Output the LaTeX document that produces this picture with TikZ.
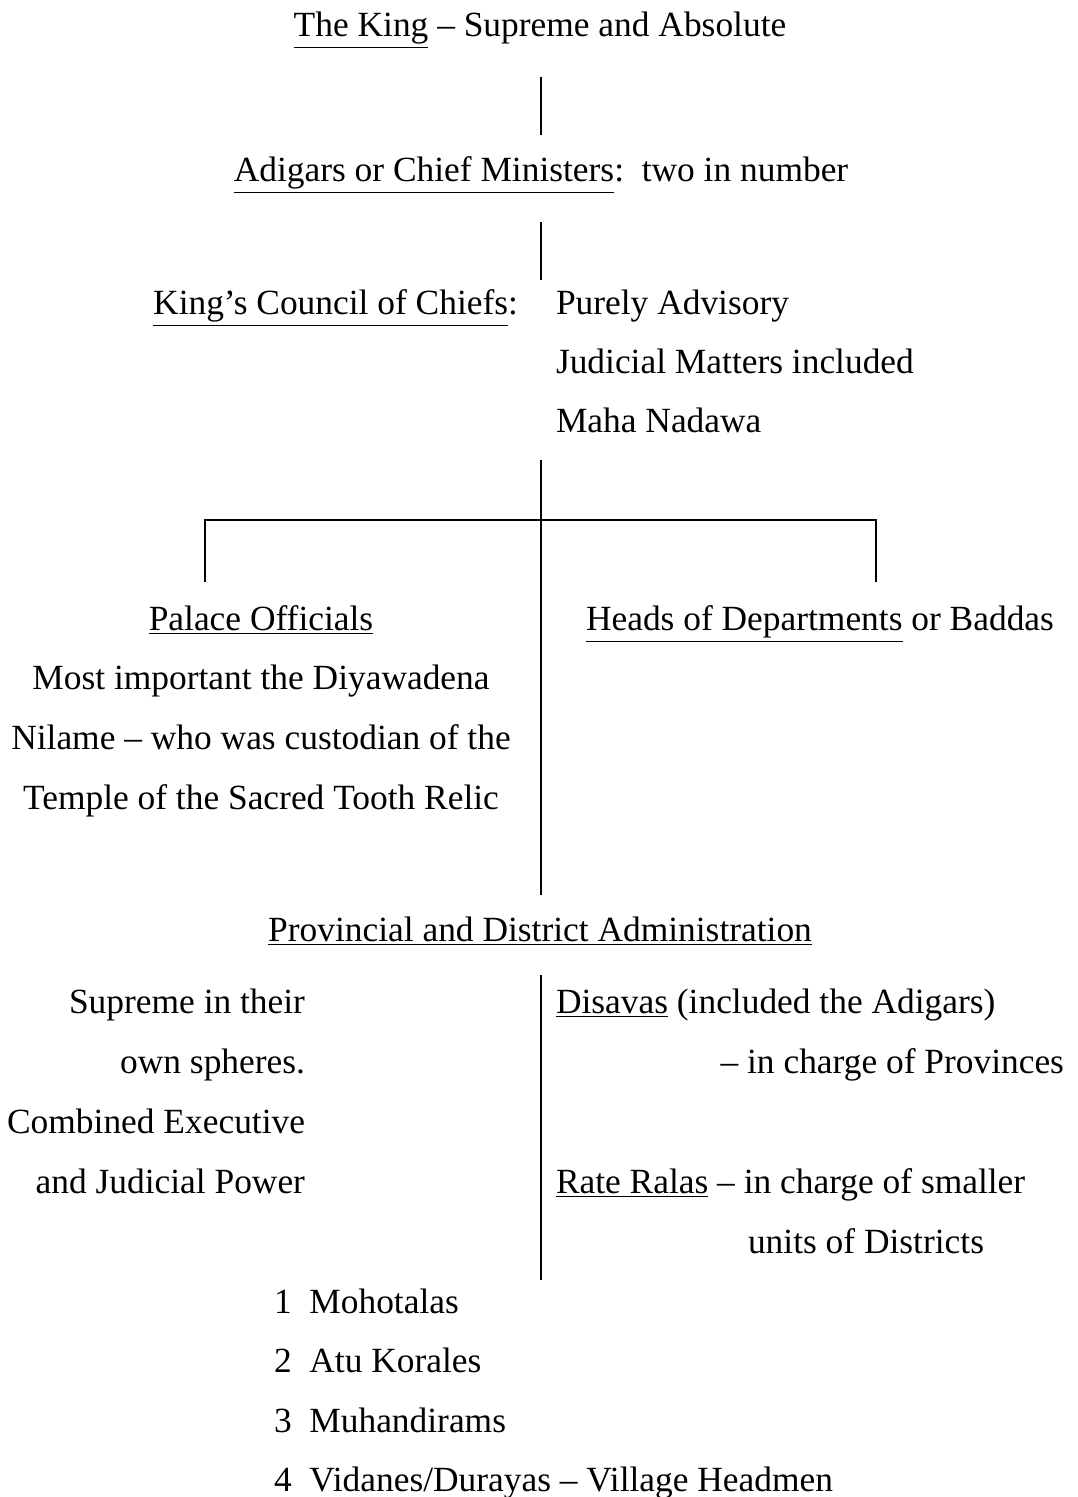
\documentclass[tikz,border=0pt]{standalone}
\usepackage{fontspec}
\setmainfont{Liberation Serif}
\usetikzlibrary{positioning}

\begin{document}
\begin{tikzpicture}[x=0.5pt, y=-0.5pt, line width=1pt,
  every node/.style={inner sep=0pt, font=\fontsize{17.7}{30}\selectfont},
  txt/.style={anchor=mid, yshift=-3.5pt},
  txtl/.style={anchor=mid west, yshift=-3.5pt},
  txtr/.style={anchor=mid east, yshift=-3.5pt}]
\useasboundingbox (0,0) rectangle (1077,1497);

% Nodes
\node[txt] (king) at (540,25) {\underline{The King} – Supreme and Absolute};
\node[txt] (adigars) at (541,170) {\underline{Adigars or Chief Ministers}:\ \ two in number};
\node[txtr] (council) at (519,303) {\underline{King’s Council of Chiefs}:};
\node[txtl] (advisory) at (555,303) {Purely Advisory};
\node[txtl] (judicial) at (555,362) {Judicial Matters included};
\node[txtl] (nadawa) at (555,421) {Maha Nadawa};

\node[txt] (palace) at (261,619) {\underline{Palace Officials}};
\node[txt] (palaceA) at (261,678) {Most important the Diyawadena};
\node[txt] (palaceB) at (261,738) {Nilame – who was custodian of the};
\node[txt] (palaceC) at (261,798) {Temple of the Sacred Tooth Relic};
\node[txtl] (heads) at (585,619) {\underline{Heads of Departments} or Baddas};

\node[txt] (provincial) at (540,930) {\underline{Provincial and District Administration}};
\node[txtr] (supremeA) at (306,1002) {Supreme in their};
\node[txtr] (supremeB) at (306,1062) {own spheres.};
\node[txtr] (supremeC) at (306,1122) {Combined Executive};
\node[txtr] (supremeD) at (306,1182) {and Judicial Power};
\node[txtl] (disavas) at (555,1002) {\underline{Disavas} (included the Adigars)};
\node[txtr] (disavasB) at (1065,1062) {– in charge of Provinces};
\node[txtl] (ralas) at (555,1182) {\underline{Rate Ralas} – in charge of smaller};
\node[txtr] (ralasB) at (985,1242) {units of Districts};

\node[txtl] (mohotalas) at (273,1302) {1\ \ Mohotalas};
\node[txtl] (korales) at (273,1361) {2\ \ Atu Korales};
\node[txtl] (muhandirams) at (273,1421) {3\ \ Muhandirams};
\node[txtl] (vidanes) at (273,1480) {4\ \ Vidanes/Durayas – Village Headmen};

% Line ends
\coordinate (kingB) at (541,77);
\coordinate (adigarsT) at (541,135);
\coordinate (adigarsB) at (541,222);
\coordinate (councilT) at (541,280);
\coordinate (councilB) at (541,460);
\coordinate (provT) at (541,895);
\coordinate (forkL) at (205,520);
\coordinate (forkR) at (876,520);
\coordinate (palaceT) at (205,582);
\coordinate (headsT) at (876,582);
\coordinate (splitT) at (541,975);
\coordinate (splitB) at (541,1280);

% Edges
\draw (kingB) -- (adigarsT);
\draw (adigarsB) -- (councilT);
\draw (councilB) -- (provT);
\draw (palaceT) -- (forkL) -- (forkR) -- (headsT);
\draw (splitT) -- (splitB);

\end{tikzpicture}
\end{document}
